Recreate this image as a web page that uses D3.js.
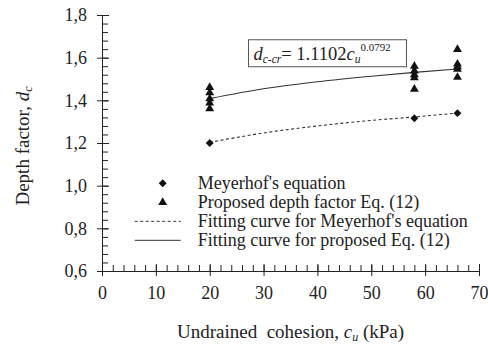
<!DOCTYPE html>
<html>
<head>
<meta charset="utf-8">
<script src="https://cdn.jsdelivr.net/npm/d3@7"></script>
<style>
  body { margin: 0; background: #fff; }
  svg, svg text { font-family: "Liberation Serif", "DejaVu Serif", serif; }
  text { fill: #222; }
</style>
</head>
<body>
<svg id="chart" width="488" height="345"></svg>
<script>
// data
const meyerhofX = [20, 58, 66];
const meyerhofY = [1.20, 1.316, 1.34];
const proposedX = [20, 20, 20, 20, 20, 58, 58, 58, 58, 58, 66, 66, 66, 66, 66];
const proposedY = [1.461, 1.436, 1.408, 1.388, 1.361,
                   1.56, 1.538, 1.52, 1.506, 1.452,
                   1.639, 1.57, 1.558, 1.546, 1.508];
const fitX = [20, 30, 40, 50, 58, 66];
const fitMeyerhofY = [1.203, 1.247, 1.28, 1.306, 1.322, 1.34];
const fitProposedY = [1.408, 1.454, 1.487, 1.513, 1.531, 1.547];
const xTicks = [0, 10, 20, 30, 40, 50, 60, 70];
const yTicks = [0.6, 0.8, 1.0, 1.2, 1.4, 1.6, 1.8];
const legendLabels = ["Meyerhof's equation", "Proposed depth factor Eq. (12)",
  "Fitting curve for Meyerhof's equation", "Fitting curve for proposed Eq. (12)"];

const svg = d3.select('#chart');
const margin = { top: 15, right: 9, bottom: 74, left: 102 },
  width = 488 - margin.left - margin.right,
  height = 345 - margin.top - margin.bottom;

const x = d3.scaleLinear().domain([0, 70]).range([0, width]);
const y = d3.scaleLinear().domain([0.6, 1.8]).range([height, 0]);

const g = svg.append('g')
  .attr('transform', 'translate(' + margin.left + ',' + margin.top + ')');

// minor ticks (inside)
g.append('g')
  .attr('transform', 'translate(0,' + height + ')')
  .call(d3.axisTop(x).tickValues(d3.range(0, 70.01, 2)).tickSize(6).tickFormat(''));
g.append('g')
  .call(d3.axisRight(y).tickValues(d3.range(0.6, 1.801, 0.04)).tickSize(6).tickFormat(''));

// major ticks crossing axis
g.append('g')
  .attr('class', 'axis axis--x')
  .attr('transform', 'translate(0,' + height + ')')
  .call(d3.axisBottom(x).tickValues(xTicks).tickSizeInner(5).tickSizeOuter(0).tickPadding(10)
    .tickFormat(d3.format('d')));
g.append('g')
  .attr('transform', 'translate(0,' + height + ')')
  .call(d3.axisTop(x).tickValues(xTicks).tickSize(7).tickFormat(''));

g.append('g')
  .attr('class', 'axis axis--y')
  .call(d3.axisLeft(y).tickValues(yTicks).tickSizeInner(5).tickSizeOuter(0).tickPadding(10)
    .tickFormat(d => d3.format('.1f')(d).replace('.', ',')));
g.append('g')
  .call(d3.axisRight(y).tickValues(yTicks).tickSize(7).tickFormat(''));

g.selectAll('g').attr('font-family', '"Liberation Serif", serif');
g.selectAll('.domain').attr('stroke', '#222');
g.selectAll('.tick line').attr('stroke', '#222');
g.selectAll('.axis--x text, .axis--y text')
  .attr('font-size', 18).attr('fill', '#222');

// fitting curves
const fitLine = d3.line().x(d => x(d[0])).y(d => y(d[1])).curve(d3.curveMonotoneX);
g.append('path')
  .datum(fitX.map((v, i) => [v, fitMeyerhofY[i]]))
  .attr('d', fitLine)
  .attr('fill', 'none').attr('stroke', '#333').attr('stroke-width', 1.1)
  .attr('stroke-dasharray', '3,2.5');
g.append('path')
  .datum(fitX.map((v, i) => [v, fitProposedY[i]]))
  .attr('d', fitLine)
  .attr('fill', 'none').attr('stroke', '#333').attr('stroke-width', 1.1);

// points
const diamond = d3.symbol().type(d3.symbolDiamond2).size(40);
const triangle = d3.symbol().type(d3.symbolTriangle).size(34);
g.selectAll('.mey')
  .data(meyerhofX.map((v, i) => [v, meyerhofY[i]]))
  .enter().append('path')
  .attr('class', 'mey')
  .attr('d', diamond)
  .attr('transform', d => 'translate(' + x(d[0]) + ',' + y(d[1]) + ')')
  .attr('fill', '#111');
g.selectAll('.prop')
  .data(proposedX.map((v, i) => [v, proposedY[i]]))
  .enter().append('path')
  .attr('class', 'prop')
  .attr('d', triangle)
  .attr('transform', d => 'translate(' + x(d[0]) + ',' + y(d[1]) + ')')
  .attr('fill', '#111');

// equation box
const eq = g.append('g').attr('transform', 'translate(' + (x(24.6) + 14) + ',' + (y(1.684)) + ')');
eq.append('rect')
  .attr('x', 0).attr('y', 0).attr('width', 158).attr('height', 27)
  .attr('fill', '#fff').attr('stroke', '#555').attr('stroke-width', 1);
const eqText = eq.append('text').attr('x', 5).attr('y', 20).attr('font-size', 18.5);
eqText.append('tspan').attr('font-style', 'italic').text('d');
eqText.append('tspan').attr('font-style', 'italic').attr('font-size', 11.5).attr('dy', 3).text('c-cr');
eqText.append('tspan').attr('dy', -3).text('= 1.1102');
eqText.append('tspan').attr('font-style', 'italic').text('c');
eqText.append('tspan').attr('font-style', 'italic').attr('font-size', 11.5).attr('dy', 3).text('u');
eqText.append('tspan').attr('font-size', 11).attr('dy', -12).text('0.0792');

// legend
const legend = g.append('g').attr('transform', 'translate(' + x(5.7) + ',' + y(1.011) + ')');
const rowH = 19;
legend.selectAll('text')
  .data(legendLabels)
  .enter().append('text')
  .attr('x', 65).attr('y', (d, i) => i * rowH + 6)
  .attr('font-size', 18)
  .text(d => d);
legend.append('path').attr('d', diamond).attr('transform', 'translate(30,0)').attr('fill', '#111');
legend.append('path').attr('d', triangle).attr('transform', 'translate(30,' + rowH + ')').attr('fill', '#111');
legend.append('line')
  .attr('x1', 2).attr('x2', 48).attr('y1', 2 * rowH).attr('y2', 2 * rowH)
  .attr('stroke', '#333').attr('stroke-dasharray', '3,2.5');
legend.append('line')
  .attr('x1', 2).attr('x2', 48).attr('y1', 3 * rowH).attr('y2', 3 * rowH)
  .attr('stroke', '#333');

// axis titles
const xt = svg.append('text')
  .attr('x', margin.left + width / 2).attr('y', 338)
  .attr('text-anchor', 'middle').attr('font-size', 19)
  .attr('xml:space', 'preserve').style('white-space', 'pre');
xt.append('tspan').text('Undrained  cohesion, ');
xt.append('tspan').attr('font-style', 'italic').text('c');
xt.append('tspan').attr('font-style', 'italic').attr('font-size', 12).attr('dy', 3).text('u');
xt.append('tspan').attr('dy', -3).text(' (kPa)');

const yt = svg.append('text')
  .attr('transform', 'translate(29,' + (margin.top + height / 2 + 3) + ') rotate(-90)')
  .attr('text-anchor', 'middle').attr('font-size', 19);
yt.append('tspan').text('Depth factor, ');
yt.append('tspan').attr('font-style', 'italic').text('d');
yt.append('tspan').attr('font-style', 'italic').attr('font-size', 12).attr('dy', 3).text('c');
</script>
</body>
</html>
